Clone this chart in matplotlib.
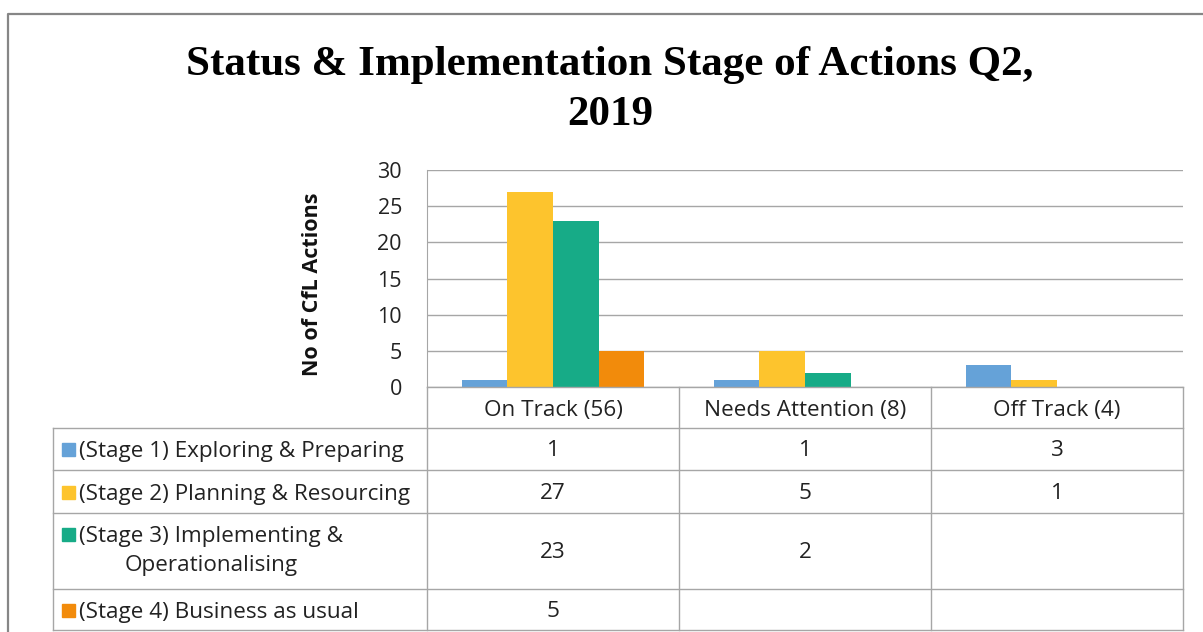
import numpy as np
import matplotlib
matplotlib.use("Agg")
import matplotlib.pyplot as plt
from matplotlib.patches import Rectangle

# data
categories = ["On Track (56)", "Needs Attention (8)", "Off Track (4)"]
stages = ["(Stage 1) Exploring & Preparing",
          "(Stage 2) Planning & Resourcing",
          "(Stage 3) Implementing &\nOperationalising",
          "(Stage 4) Business as usual"]
stage1 = [1, 1, 3]
stage2 = [27, 5, 1]
stage3 = [23, 2, np.nan]
stage4 = [5, np.nan, np.nan]
colors = ["#65A2D8", "#FDC42D", "#17AB87", "#F28B0B"]

W, H = 1203, 632
fig = plt.figure(figsize=(W / 100, H / 100), dpi=100)
sans = "Open Sans"
fs = 16.2
tc = "#222222"

# plot area in pixel coords
x0, x1, ytop, ybot = 427, 1183, 170, 387
ax = fig.add_axes([x0 / W, 1 - ybot / H, (x1 - x0) / W, (ybot - ytop) / H])

series = [stage1, stage2, stage3, stage4]
x = np.arange(len(categories))
w = 0.181
for i, vals in enumerate(series):
    ax.bar(x + (i - 1.5) * w, vals, w, color=colors[i], zorder=3)

ax.set_xlim(-0.5, 2.5)
ax.set_ylim(0, 30)
ax.set_yticks(range(0, 31, 5))
ax.set_xticks([])
ax.grid(axis="y", color="#A6A6A6", linewidth=1.0, zorder=0)
for s in ["top", "right", "bottom"]:
    ax.spines[s].set_visible(False)
ax.spines["left"].set_color("#A6A6A6")
ax.tick_params(axis="y", length=0, pad=18, labelsize=15.5, labelcolor=tc)
for t in ax.get_yticklabels():
    t.set_fontfamily(sans)

# overlay for table and frame, pixel coordinates
ov = fig.add_axes([0, 0, 1, 1])
ov.set_xlim(0, W)
ov.set_ylim(H, 0)
ov.axis("off")

ov.text(312, 284, "No of CfL Actions", rotation=90, ha="center", va="center",
        fontsize=15.5, fontweight="bold", fontfamily=sans, color="#111111")

lc = "#A6A6A6"
col_x = [x0, 679, 931, x1]
row_y = [ybot, 428, 470, 513, 589, 630]
lbl_x = 53

# table lines
ov.plot([x0, x1], [ybot, ybot], color=lc, lw=1)
for cx in col_x:
    ov.plot([cx, cx], [ybot, row_y[-1]], color=lc, lw=1)
ov.plot([lbl_x, lbl_x], [row_y[1], row_y[-1]], color=lc, lw=1)
for ry in row_y[1:]:
    ov.plot([lbl_x, x1], [ry, ry], color=lc, lw=1)

# header text
for j, cat in enumerate(categories):
    ov.text((col_x[j] + col_x[j + 1]) / 2, (row_y[0] + row_y[1]) / 2 + 3, cat,
            ha="center", va="center", fontsize=fs, fontfamily=sans, color=tc)

# rows
for i, vals in enumerate(series):
    yc = (row_y[i + 1] + row_y[i + 2]) / 2
    ky = yc - 6 if i != 2 else row_y[3] + 15
    ov.add_patch(Rectangle((62, ky), 13, 13, color=colors[i]))
    if i == 2:
        ov.text(79, yc, stages[i], ha="left", va="center", multialignment="center",
                fontsize=fs, fontfamily=sans, color=tc, linespacing=1.45)
    else:
        ov.text(79, yc + 3, stages[i], ha="left", va="center",
                fontsize=fs, fontfamily=sans, color=tc)
    for j, v in enumerate(vals):
        if not np.isnan(v):
            ov.text((col_x[j] + col_x[j + 1]) / 2, yc + 2, f"{int(v)}",
                    ha="center", va="center", fontsize=fs, fontfamily=sans, color=tc)

# chart frame
ov.plot([8, 8, W + 5], [H + 5, 14, 14], color="#868686", lw=1.6)

# title
ov.text(610, 90, "Status & Implementation Stage of Actions Q2,\n2019",
        ha="center", va="center", fontsize=31, fontweight="bold",
        fontfamily="Liberation Serif", linespacing=1.38)

fig.savefig("out.png", dpi=100)
